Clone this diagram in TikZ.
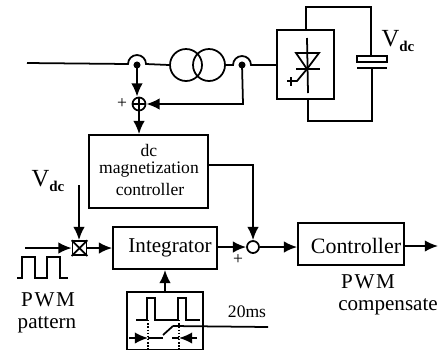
\documentclass[tikz,border=0pt]{standalone}
\usepackage{fontspec}
\setmainfont{Liberation Serif}
\usetikzlibrary{arrows.meta,calc}
\newcommand{\Vdc}{V\raisebox{-3pt}{\fontsize{8.5}{9}\selectfont\bfseries dc}}
\tikzset{
	block/.style={draw,line width=1pt,rectangle,inner sep=0pt},
	ring/.style={draw,line width=1pt,circle,inner sep=0pt},
	sig/.style={line width=1pt,-{Latex[length=7.5pt,width=6.5pt]}},
	wire/.style={line width=1pt},
	big/.style={font=\fontsize{12}{14}\selectfont,inner sep=0pt},
	small/.style={font=\fontsize{10}{12}\selectfont,inner sep=0pt},
}
\begin{document}
\begin{tikzpicture}[x=0.02cm,y=-0.02cm]
		\useasboundingbox (0,0) rectangle (438,349);
		% power line
		\coordinate (line in) at (27,63);
		\node[ring,minimum size=0.64cm] (xfa) at (186,65) {};
		\node[ring,minimum size=0.64cm] (xfb) at (209,65) {};
		\node[block,minimum width=1.14cm,minimum height=1.38cm] (conv) at (305.5,64.5) {};
		\coordinate (sense a) at (137,65);
		\coordinate (sense b) at (242,65);
		\fill (sense a) circle (2pt);
		\fill (sense b) circle (2pt);
		\draw[wire] (line in) -- (128,64) arc[start angle=180,end angle=360,radius=9] -- (xfa.west);
		\draw[wire] (xfb.east) -- (233,65) arc[start angle=180,end angle=360,radius=9] -- (conv.west |- 0,65);
		% thyristor
		\coordinate (thy top) at (307,38);
		\coordinate (thy bot) at (308,93);
		\coordinate (thy k) at (307,69);
		\draw[wire] (thy top) -- (thy bot);
		\draw[wire] (296,53) -- (319,53) -- (thy k) -- cycle;
		\draw[wire] (296,69) -- (320,69);
		\draw[wire] (thy k) -- (297,81) -- (287,81);
		\draw[wire] (291,77) -- (291,86);
		% dc link
		\node[block,minimum width=0.6cm,minimum height=0.12cm] (capa) at (372,59) {};
		\coordinate (capb l) at (357,68);
		\coordinate (capb r) at (387,68);
		\draw[line width=1.5pt] (capb l) -- (capb r);
		\draw[wire] (conv.north -| 306,0) -- (306,7) -- (371,7) -- (capa.north -| 371,0);
		\draw[wire] (372,68) -- (372,121) -- (308,121) -- (conv.south -| 308,0);
		\node[big,font=\fontsize{14}{16}\selectfont] (vdc top) at (398,41) {\Vdc};
		% magnetization loop
		\node[ring,minimum size=0.26cm] (sum) at (139,104) {};
		\draw[line width=1pt] (sum.north) -- (sum.south) (sum.west) -- (sum.east);
		\node[small] (plus a) at (122,104) {+};
		\draw[sig] (sense a) -- (sum.north -| sense a);
		\draw[sig] (sense b) -- (243,104) -- (sum.east);
		\node[block,minimum width=2.38cm,minimum height=1.46cm,align=center] (magctrl) at (148.5,171.5) {};
		\node[small] (magtxt a) at (149,150) {dc};
		\node[small] (magtxt b) at (149,170) {magnetization};
		\node[small] (magtxt c) at (150,189) {controller};
		\draw[sig] (sum.south) -- (magctrl.north -| sum);
		% lower path
		\node[block,minimum size=0.28cm] (mult) at (79.5,248) {};
		\draw[line width=1pt] (mult.north west) -- (mult.south east) (mult.north east) -- (mult.south west);
		\node[block,minimum width=2.08cm,minimum height=0.84cm] (integ) at (165,248) {};
		\node[big] (integ txt) at (170,248) {Integrator};
		\node[ring,minimum size=0.24cm] (node out) at (253,247) {};
		\node[block,minimum width=2.12cm,minimum height=0.84cm] (ctrl) at (351,244) {};
		\node[big,font=\fontsize{12.5}{14}\selectfont] (ctrl txt) at (356,246) {Controller};
		\coordinate (pwm in) at (25,248);
		\coordinate (vdc in) at (79,185);
		\coordinate (ctrl out) at (438,246);
		\node[big,font=\fontsize{14}{16}\selectfont] (vdc low) at (48,181) {\Vdc};
		\draw[sig] (pwm in) -- (mult.west);
		\draw[sig] (vdc in) -- (mult.north -| vdc in);
		\draw[sig] (mult.east) -- (integ.west |- mult);
		\draw[sig] (integ.east |- node out) -- (node out.west);
		\draw[sig] (node out.east) -- (ctrl.west |- node out);
		\draw[sig] (ctrl.east |- ctrl out) -- (ctrl out);
		\draw[sig] (magctrl.east |- 0,165) -- (253,165) -- (node out.north);
		\node[small] (plus b) at (238,260) {+};
		% pwm pattern
		\draw[wire] (17,278) -- (22,278) -- (22,257) -- (35,257) -- (35,278) -- (47,278) -- (47,257) -- (60,257) -- (60,278) -- (68,278);
		\node[big] (pwm a) at (48,300) {P\kern1pt W\kern1pt M};
		\node[big] (pwm b) at (47,325) {pattern};
		\node[big] (comp a) at (368,282) {P\kern1pt W\kern1pt M};
		\node[big] (comp b) at (388,307) {compensate};
		% sampling window
		\node[block,minimum width=1.52cm,minimum height=1.16cm] (window) at (165,321) {};
		\draw[sig] (window.north) -- (integ.south -| window);
		\draw[wire] (136,320) -- (147,320) -- (147,298) -- (155,298) -- (155,320) -- (178,320) -- (178,298) -- (186,298) -- (186,320) -- (200,320);
		\draw[thick,densely dotted] (148,320) -- (148,349);
		\draw[thick,densely dotted] (179,320) -- (179,349);
		\coordinate (sw a) at (163,338);
		\coordinate (sw b) at (172,338);
		\draw[sig] (129,338) -- (148,338);
		\draw[sig] (197,338) -- (179,338);
		\draw[wire] (148,338) -- (sw a);
		\draw[wire] (179,338) -- (sw b);
		\draw[wire] (163,335) -- (173,326);
		\draw[wire] (173,326) -- (268,327);
		\node[small] (twenty) at (247,312) {20ms};
	\end{tikzpicture}
\end{document}
